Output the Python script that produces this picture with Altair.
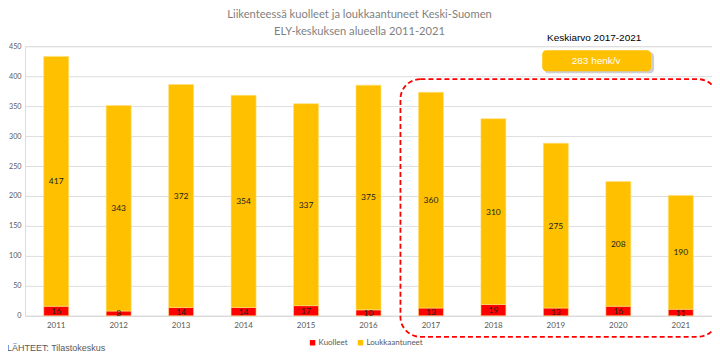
import altair as alt
import pandas as pd

years = ["2011", "2012", "2013", "2014", "2015", "2016", "2017", "2018", "2019", "2020", "2021"]
kuolleet = [16, 8, 14, 14, 17, 10, 13, 19, 13, 16, 11]
loukkaantuneet = [417, 343, 372, 354, 337, 375, 360, 310, 275, 208, 190]
series = ["Kuolleet", "Loukkaantuneet"]
colors = ["#FF0000", "#FFC000"]
y_ticks = [0, 50, 100, 150, 200, 250, 300, 350, 400, 450]
title_lines = ["Liikenteessä kuolleet ja loukkaantuneet Keski-Suomen", "ELY-keskuksen alueella 2011-2021"]
avg_title = "Keskiarvo 2017-2021"
avg_text = "283 henk/v"
source_text = "LÄHTEET: Tilastokeskus"

rows = []
for y, k, l in zip(years, kuolleet, loukkaantuneet):
    rows.append({"year": y, "series": "Kuolleet", "value": k, "order": 0, "mid": k / 2})
    rows.append({"year": y, "series": "Loukkaantuneet", "value": l, "order": 1, "mid": k + l / 2})
df = pd.DataFrame(rows)

W, H = 688, 270
xscale = alt.Scale(domain=years, paddingInner=0.6, paddingOuter=0.3)
yscale = alt.Scale(domain=[0, 450], nice=False)

x_axis = alt.Axis(labelAngle=0, ticks=False, domain=True, domainColor="#D9D9D9",
                  labelColor="#595959", labelFont="Lato", labelFontSize=8, labelPadding=6)
y_axis = alt.Axis(values=y_ticks, ticks=False, domain=False, labelOverlap=False,
                  grid=True, gridColor="#DEDEDE", gridWidth=1,
                  labelColor="#595959", labelFont="Lato",
                  labelFontSize=7.2, labelPadding=4)

bars = alt.Chart(df).mark_bar(stroke="#FFE07A", strokeWidth=0.6).encode(
    x=alt.X("year:N", scale=xscale, sort=years, title=None, axis=x_axis),
    y=alt.Y("value:Q", stack="zero", scale=yscale, title=None, axis=y_axis),
    color=alt.Color("series:N", scale=alt.Scale(domain=series, range=colors), title=None,
                    legend=alt.Legend(orient="none", legendX=284, legendY=293, direction="horizontal",
                                      symbolType="square", symbolSize=30, symbolStrokeWidth=0,
                                      labelFont="Lato", labelFontSize=8, labelColor="#595959",
                                      columnPadding=8, labelOffset=2)),
    order=alt.Order("order:Q"),
)

labels = alt.Chart(df).mark_text(font="Lato", fontSize=8.5, color="#222222").encode(
    x=alt.X("year:N", scale=xscale, sort=years, title=None, axis=x_axis),
    y=alt.Y("mid:Q", scale=yscale, title=None, axis=y_axis),
    text="value:Q",
)

one = pd.DataFrame({"a": [0]})

title1 = alt.Chart(one).mark_text(text=title_lines[0], font="Lato", fontSize=11.2, color="#7F7F7F").encode(
    x=alt.value(335), y=alt.value(-31))
title2 = alt.Chart(one).mark_text(text=title_lines[1], font="Lato", fontSize=11.2, color="#7F7F7F").encode(
    x=alt.value(335), y=alt.value(-14))

dash_box = alt.Chart(one).mark_rect(fill=None, fillOpacity=0, stroke="#FF0000", strokeWidth=1.8,
                                    strokeDash=[5, 3], cornerRadius=20).encode(
    x=alt.value(376), x2=alt.value(694), y=alt.value(33), y2=alt.value(291))

shadow = alt.Chart(one).mark_rect(fill="#9E9E9E", opacity=0.5, cornerRadius=4).encode(
    x=alt.value(520), x2=alt.value(630), y=alt.value(6), y2=alt.value(27))
avg_box = alt.Chart(one).mark_rect(fill="#FFC000", cornerRadius=4).encode(
    x=alt.value(518), x2=alt.value(627), y=alt.value(4), y2=alt.value(25))
avg_label = alt.Chart(one).mark_text(text=avg_text, font="Liberation Sans", fontSize=10, color="white").encode(
    x=alt.value(572), y=alt.value(15))
avg_head = alt.Chart(one).mark_text(text=avg_title, font="Liberation Sans", fontSize=10, color="#000000").encode(
    x=alt.value(570), y=alt.value(-8))

source = alt.Chart(one).mark_text(text=source_text, font="Liberation Sans", fontSize=9, color="#595959",
                                  align="left").encode(
    x=alt.value(-18), y=alt.value(302))

chart = alt.layer(bars, labels, dash_box, shadow, avg_box, avg_label, avg_head, title1, title2, source).properties(
    width=W, height=H,
    autosize=alt.AutoSizeParams(type="none"),
    padding={"left": 17, "top": 38, "right": 0, "bottom": 45},
).configure_view(stroke=None).configure(background="white")

chart.save("out.html", embed_options={"renderer": "svg", "actions": False})
